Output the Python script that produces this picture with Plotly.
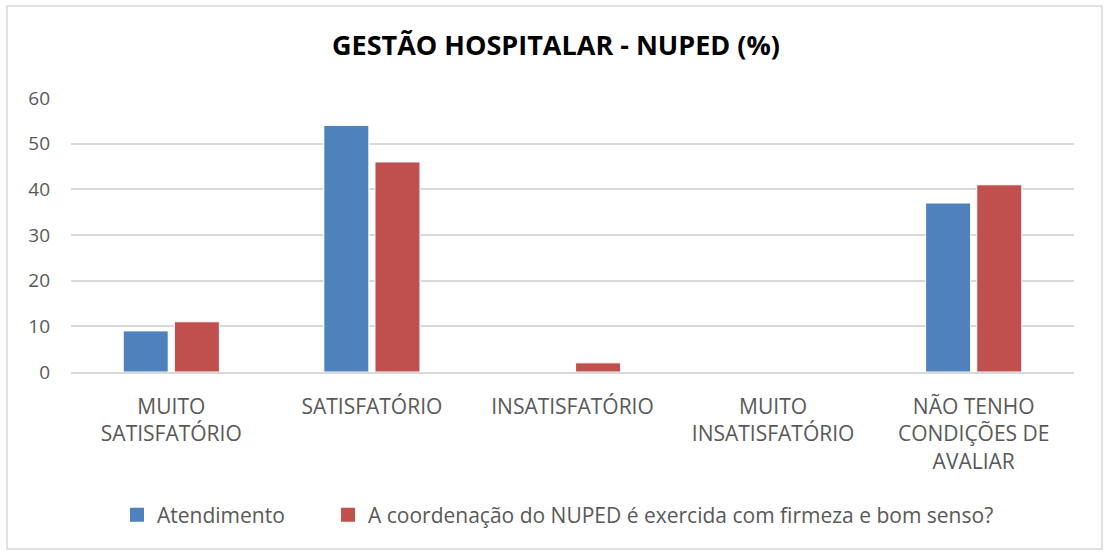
import plotly.graph_objects as go

# categories and series (percent)
categorias = ["MUITO<br>SATISFATÓRIO", "SATISFATÓRIO", "INSATISFATÓRIO",
              "MUITO<br>INSATISFATÓRIO", "NÃO TENHO<br>CONDIÇÕES DE<br>AVALIAR"]
atendimento = [9, 54, 0, 0, 37]
coordenacao = [11, 46, 2, 0, 41]
y_ticks = [0, 10, 20, 30, 40, 50, 60]
series_names = ["Atendimento",
                "A coordenação do NUPED é exercida com firmeza e bom senso?"]
series_colors = ["#4F81BD", "#C0504D"]

FONT = "Open Sans"
GREY = "#595959"

fig = go.Figure()
for vals, name, color in zip([atendimento, coordenacao], series_names, series_colors):
    fig.add_trace(go.Bar(
        x=categorias, y=vals, name=name, showlegend=False,
        marker=dict(color=color, line=dict(color="white", width=1))
    ))

# legend entries with bigger square swatches, like Excel
# (trailing non-breaking spaces widen the gap between the two entries)
for i, (name, color) in enumerate(zip(series_names, series_colors)):
    label = name + ("&nbsp;" * 7 if i == 0 else "")
    fig.add_trace(go.Scatter(
        x=[None], y=[None], mode="markers", name=label,
        marker=dict(symbol="square", size=14, color=color)
    ))

W, H = 1104, 552
ml, mr, mt, mb = 71, 30, 98, 180
pw, ph = W - ml - mr, H - mt - mb

# outer chart border (Excel style)
fig.add_shape(
    type="rect", xref="paper", yref="paper",
    x0=(7 - ml) / pw, x1=(1102 - ml) / pw,
    y0=(H - mb - 549) / ph, y1=(H - mb - 6) / ph,
    line=dict(color="#D9D9D9", width=1.5), fillcolor="rgba(0,0,0,0)", layer="below"
)

fig.update_layout(
    width=W, height=H,
    margin=dict(l=ml, r=mr, t=mt, b=mb),
    paper_bgcolor="white", plot_bgcolor="white",
    font=dict(family=FONT, size=21, color=GREY),
    title=dict(text="<b>GESTÃO HOSPITALAR - NUPED (%)</b>", x=(556 - ml) / pw,
               xref="paper", xanchor="center",
               y=1 - 46 / H, yanchor="middle",
               font=dict(family=FONT, size=27, color="#000000")),
    barmode="group", bargap=0.49, bargroupgap=0.12,
    showlegend=True,
    legend=dict(orientation="h", x=(117 - ml) / pw, xanchor="left",
                y=(H - mb - 515) / ph, yanchor="middle",
                font=dict(family=FONT, size=21, color=GREY),
                itemwidth=30, traceorder="normal"),
    xaxis=dict(showline=True, linecolor="#D9D9D9", linewidth=1.5,
               tickfont=dict(size=21, color=GREY), ticks="",
               ticklabelstandoff=15),
    yaxis=dict(range=[0, 60], tickvals=y_ticks, showgrid=True,
               gridcolor="#D9D9D9", gridwidth=1.5, zeroline=False,
               showline=False, ticks="", ticklen=0, ticklabelstandoff=20,
               tickfont=dict(size=19, color=GREY)),
)

fig.write_html("out.html", config={"displayModeBar": False},
               post_script="document.body.style.margin='0';")
